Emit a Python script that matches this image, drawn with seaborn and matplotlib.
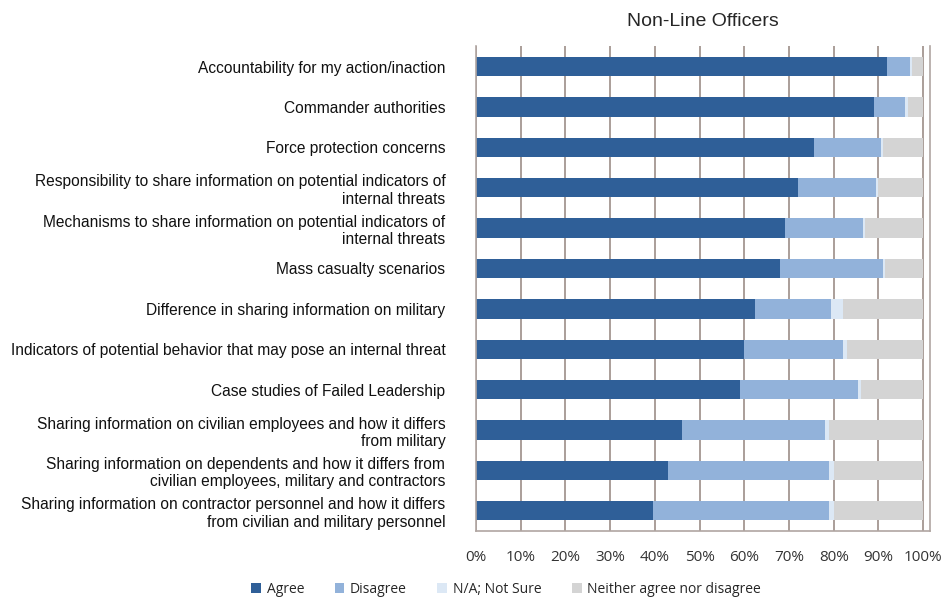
import numpy as np
import pandas as pd
import matplotlib
matplotlib.use("Agg")
import matplotlib.pyplot as plt
import seaborn as sns
from matplotlib.patches import Patch

# Datos (porcentajes)
categories = [
    "Accountability for my action/inaction",
    "Commander authorities",
    "Force protection concerns",
    "Responsibility to share information on potential indicators of\ninternal threats",
    "Mechanisms to share information on potential indicators of\ninternal threats",
    "Mass casualty scenarios",
    "Difference in sharing information on military",
    "Indicators of potential behavior that may pose an internal threat",
    "Case studies of Failed Leadership",
    "Sharing information on civilian employees and how it differs\nfrom military",
    "Sharing information on dependents and how it differs from\ncivilian employees, military and contractors",
    "Sharing information on contractor personnel and how it differs\nfrom civilian and military personnel",
]
agree = [92, 89, 75.5, 72, 69, 68, 62.5, 60, 59, 46, 43, 39.5]
disagree = [5, 7, 15, 17.5, 17.5, 23, 17, 22, 26.5, 32, 36, 39.5]
not_sure = [0.5, 0.5, 0.5, 0.5, 0.5, 0.5, 2.5, 1, 0.5, 1, 1, 1]
neither = [2.5, 3.5, 9, 10, 13, 8.5, 18, 17, 14, 21, 20, 20]

series = ["Agree", "Disagree", "N/A; Not Sure", "Neither agree nor disagree"]
colors = ["#2F5F98", "#92B2DA", "#DCE8F5", "#D4D4D4"]

df = pd.DataFrame({"cat": categories, "Agree": agree, "Disagree": disagree,
                   "N/A; Not Sure": not_sure, "Neither agree nor disagree": neither})
cum = df[series].cumsum(axis=1)

sns.set_style("white")
plt.rcParams["font.family"] = ["Liberation Sans", "DejaVu Sans"]

fig = plt.figure(figsize=(9.46, 6.02), dpi=100)
ax = fig.add_axes([0.503, 0.118, 0.48, 0.805])

# Barras apiladas: dibujar acumulados de mayor a menor
for s, c in reversed(list(zip(series, colors))):
    sns.barplot(x=cum[s], y=df["cat"], orient="h", color=c, width=0.48,
                edgecolor="none", saturation=1, ax=ax)

ax.set_xlim(0, 101.5)
ax.set_ylim(11.5, -0.5)
ax.set_xticks(np.arange(0, 101, 10))
ax.set_xticklabels([f"{v}%" for v in range(0, 101, 10)], fontsize=11,
                   family=["Open Sans", "DejaVu Sans"], color="#333333")
ax.tick_params(axis="x", pad=14, length=0)
ax.tick_params(axis="y", length=0, pad=22)
for lab in ax.get_yticklabels():
    lab.set_fontsize(11.2)
    lab.set_color("#111111")
    lab.set_multialignment("right")
ax.set_xlabel("")
ax.set_ylabel("")

ax.grid(axis="x", color="#9C8E88", linewidth=1.2)
ax.set_axisbelow(True)
for sp in ax.spines.values():
    sp.set_color("#B0A6A2")
    sp.set_linewidth(1.2)
ax.spines["top"].set_visible(False)

ax.set_title("Non-Line Officers", fontsize=14, pad=15, x=0.5)

handles = [Patch(facecolor=c, edgecolor="none", label=s) for s, c in zip(series, colors)]
fig.legend(handles=handles, loc="lower center", bbox_to_anchor=(0.535, -0.012), ncol=4,
           frameon=False, handlelength=0.7, handleheight=0.7,
           handletextpad=0.4, columnspacing=2.2,
           prop={"family": ["Open Sans", "DejaVu Sans"], "size": 10})

plt.savefig("out.png", dpi=100)
